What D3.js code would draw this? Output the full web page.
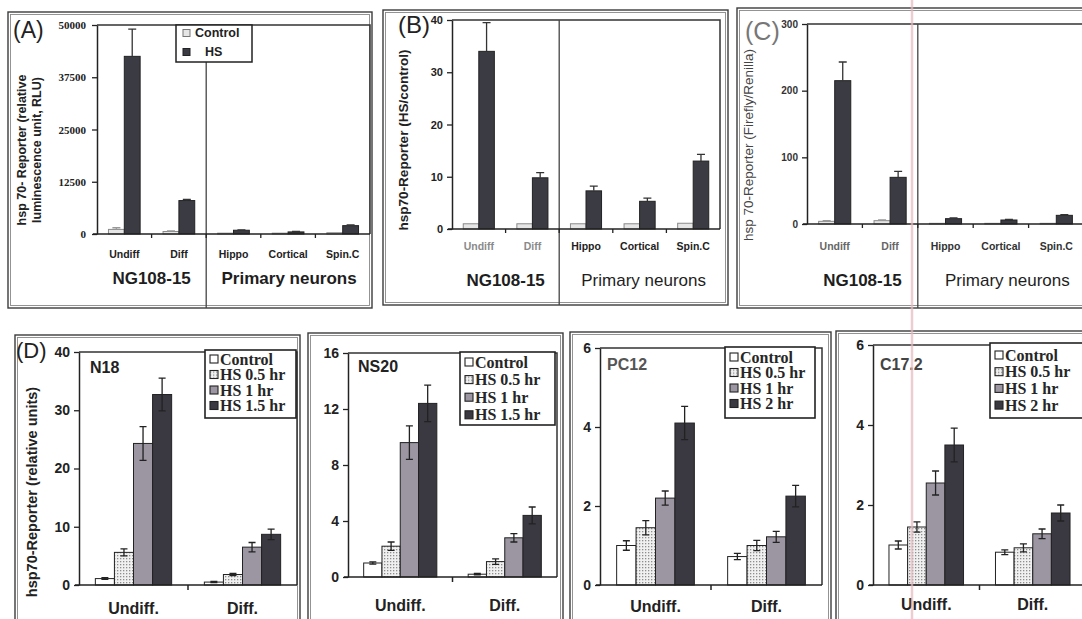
<!DOCTYPE html>
<html>
<head>
<meta charset="utf-8">
<script src="https://cdn.jsdelivr.net/npm/d3@7"></script>
<style>
  body { margin: 0; background: #fff; }
  svg { display: block; font-family: "Liberation Sans", Arial, sans-serif; }
</style>
</head>
<body>
<svg id="chart"></svg>
<script>
const width = 1082;
const height = 619;

// ---- panels A-C ----
const cellTypes = ["Undiff", "Diff", "Hippo", "Cortical", "Spin.C"];
const groupNames = ["NG108-15", "Primary neurons"];
const abcLegend = ["Control", "HS"];

// (A) relative luminescence units
const rluControl = [1100, 600, 200, 200, 300];
const rluControlErr = [400, 150, 0, 0, 0];
const rluHS = [42500, 8000, 900, 500, 2000];
const rluHSErr = [6500, 300, 100, 100, 200];
const rluTicks = [0, 12500, 25000, 37500, 50000];

// (B) HS / control
const foldControl = [1, 1, 1, 1, 1.1];
const foldControlErr = [0, 0, 0, 0, 0];
const foldHS = [34, 9.8, 7.3, 5.3, 13];
const foldHSErr = [5.5, 1.0, 0.9, 0.6, 1.3];
const foldTicks = [0, 10, 20, 30, 40];

// (C) firefly / renilla
const ratioControl = [4, 5, 1, 1, 1];
const ratioControlErr = [1, 1, 0, 0, 0];
const ratioHS = [215, 70, 8, 6, 13];
const ratioHSErr = [28, 9, 1, 1, 1];
const ratioTicks = [0, 100, 200, 300];

// ---- panel D ----
const dStates = ["Undiff.", "Diff."];
const legend15 = ["Control", "HS 0.5 hr", "HS 1 hr", "HS 1.5 hr"];
const legend2 = ["Control", "HS 0.5 hr", "HS 1 hr", "HS 2 hr"];

// one row per series: [Undiff., Diff.]
const n18Values = [[1.1, 0.5], [5.6, 1.8], [24.3, 6.5], [32.7, 8.7]];
const n18Errors = [[0.15, 0.1], [0.6, 0.2], [2.9, 0.8], [2.8, 0.9]];
const n18Ticks = [0, 10, 20, 30, 40];

const ns20Values = [[1.0, 0.2], [2.2, 1.1], [9.6, 2.8], [12.4, 4.4]];
const ns20Errors = [[0.08, 0.05], [0.3, 0.2], [1.2, 0.3], [1.3, 0.6]];
const ns20Ticks = [0, 4, 8, 12, 16];

const pc12Values = [[1.0, 0.72], [1.45, 1.0], [2.2, 1.22], [4.1, 2.25]];
const pc12Errors = [[0.12, 0.08], [0.18, 0.13], [0.18, 0.14], [0.42, 0.27]];
const pc12Ticks = [0, 2, 4, 6];

const c172Values = [[1.0, 0.82], [1.45, 0.93], [2.55, 1.28], [3.5, 1.8]];
const c172Errors = [[0.1, 0.06], [0.13, 0.1], [0.3, 0.12], [0.42, 0.2]];
const c172Ticks = [0, 2, 4, 6];

const dFills = ["#ffffff", "url(#dots)", "#9b96a2", "#3a3840"];

const svg = d3.select("#chart")
  .attr("width", width)
  .attr("height", height);

// halftone pattern for the 0.5 hr bars
const pat = svg.append("defs").append("pattern")
  .attr("id", "dots")
  .attr("width", 3).attr("height", 3)
  .attr("patternUnits", "userSpaceOnUse");
pat.append("rect").attr("width", 3).attr("height", 3).attr("fill", "#f0f0f0");
pat.append("rect").attr("width", 1.3).attr("height", 1.3).attr("fill", "#8d8d8d");

// scanned double-line frame
function frame(x, y, w, h) {
  svg.append("rect").attr("x", x).attr("y", y).attr("width", w).attr("height", h)
    .attr("fill", "none").attr("stroke", "#3c3c3c").attr("stroke-width", 1.4);
  svg.append("rect").attr("x", x + 2.5).attr("y", y + 2.5).attr("width", w - 5).attr("height", h - 5)
    .attr("fill", "none").attr("stroke", "#888").attr("stroke-width", 0.9);
}

function vTitle(g, text, x, y, size, weight, color) {
  g.append("text")
    .attr("transform", `translate(${x},${y}) rotate(-90)`)
    .attr("text-anchor", "middle")
    .attr("dominant-baseline", "central")
    .attr("font-size", size).attr("font-weight", weight).attr("fill", color)
    .text(text);
}

function topPanel(o) {
  frame(...o.box);
  const g = svg.append("g");

  const x = d3.scaleBand().domain(cellTypes).range([o.x0, o.x1]).paddingInner(0.42).paddingOuter(0.21);
  const inner = d3.scaleBand().domain(abcLegend).range([0, x.bandwidth()]);
  const y = d3.scaleLinear().domain([0, o.max]).range([o.yZero, o.yTop]);
  const half = x.step() * x.paddingInner() / 2;
  const divX = x(cellTypes[2]) - half;

  // plot area border
  g.append("path").attr("d", `M${o.x0},${o.yTop}H${o.x1}V${o.yZero}`)
    .attr("fill", "none").attr("stroke", "#333").attr("stroke-width", 1.5);
  // divider between cell line and primary neurons
  g.append("line").attr("x1", divX).attr("x2", divX)
    .attr("y1", o.yTop).attr("y2", o.box[1] + o.box[3])
    .attr("stroke", "#444").attr("stroke-width", 1.3);

  const rows = cellTypes.flatMap((c, i) => [
    { c, k: "Control", v: o.control[i], e: o.controlErr[i] },
    { c, k: "HS", v: o.hs[i], e: o.hsErr[i] }
  ]);

  g.selectAll("rect.bar").data(rows).join("rect")
    .attr("class", "bar")
    .attr("x", d => x(d.c) + inner(d.k))
    .attr("width", inner.bandwidth())
    .attr("y", d => y(d.v))
    .attr("height", d => y(0) - y(d.v))
    .attr("fill", d => d.k === "HS" ? "#3b3b43" : "#e6e6e6")
    .attr("stroke", d => d.k === "HS" ? "#222" : "#8a8a8a")
    .attr("stroke-width", 1);

  g.selectAll("path.err").data(rows.filter(d => d.e > 0)).join("path")
    .attr("class", "err")
    .attr("d", d => {
      const cx = x(d.c) + inner(d.k) + inner.bandwidth() / 2;
      const yt = y(d.v + d.e);
      return `M${cx},${y(d.v)}V${yt}M${cx - 4},${yt}H${cx + 4}`;
    })
    .attr("fill", "none")
    .attr("stroke", d => d.k === "HS" ? "#333" : "#999")
    .attr("stroke-width", 1.3);

  // y axis
  const ya = g.append("g").attr("transform", `translate(${o.x0},0)`)
    .call(d3.axisLeft(y).tickValues(o.ticks).tickSize(5).tickSizeOuter(0)
      .tickPadding(o.tickPad).tickFormat(d3.format("d")));
  ya.select(".domain").attr("stroke", "#222").attr("stroke-width", 1.5);
  ya.selectAll(".tick line").attr("stroke", "#222").attr("stroke-width", 1.3);
  ya.selectAll(".tick text")
    .attr("font-family", o.tickFont).attr("font-size", o.tickSize)
    .attr("font-weight", "bold").attr("fill", o.tickColor);

  // x baseline and boundary ticks
  g.append("line").attr("x1", o.x0 - 4).attr("x2", o.x1)
    .attr("y1", y(0)).attr("y2", y(0))
    .attr("stroke", "#222").attr("stroke-width", 1.6);
  g.selectAll("line.xt").data(cellTypes.slice(1)).join("line")
    .attr("class", "xt")
    .attr("x1", c => x(c) - half).attr("x2", c => x(c) - half)
    .attr("y1", y(0)).attr("y2", y(0) + 4)
    .attr("stroke", "#222").attr("stroke-width", 1.3);

  // category labels
  const xa = g.append("g").attr("transform", `translate(0,${o.yZero})`)
    .call(d3.axisBottom(x).tickSize(0).tickPadding(o.catPad));
  xa.select(".domain").remove();
  xa.selectAll(".tick text")
    .attr("font-family", "Liberation Sans, Arial, sans-serif")
    .attr("font-size", 10.5).attr("font-weight", "bold")
    .attr("fill", (d, i) => o.catColors[i]);

  // group labels
  g.selectAll("text.grp").data(groupNames).join("text")
    .attr("class", "grp")
    .attr("x", (d, i) => i === 0 ? (o.x0 + divX) / 2 : (divX + o.box[0] + o.box[2]) / 2)
    .attr("y", o.groupY)
    .attr("text-anchor", "middle")
    .attr("font-size", 17)
    .attr("font-weight", (d, i) => i === 0 ? "bold" : o.group2Weight)
    .attr("fill", "#1e1e1e")
    .text(d => d);

  // panel letter
  g.append("text").attr("x", o.letter.x).attr("y", o.letter.y)
    .attr("font-size", o.letter.size).attr("fill", o.letter.color)
    .text(o.letter.text);

  o.titles.forEach(t => vTitle(g, t.text, t.x, o.titleY, o.titleSize, o.titleWeight, o.titleColor));

  if (o.legend) {
    const L = o.legend;
    g.append("rect").attr("x", L.x).attr("y", L.y).attr("width", L.w).attr("height", L.h)
      .attr("fill", "#fff").attr("stroke", "#222").attr("stroke-width", 1.5);
    const items = g.selectAll("g.leg").data(abcLegend).join("g")
      .attr("transform", (d, i) => `translate(${L.x + 7},${L.y + 8 + i * 19})`);
    items.append("rect").attr("x", 0).attr("y", -3.5).attr("width", 7).attr("height", 7)
      .attr("fill", (d, i) => i ? "#3b3b43" : "#e6e6e6")
      .attr("stroke", (d, i) => i ? "#222" : "#777");
    items.append("text").attr("x", (d, i) => i ? 22 : 12).attr("y", 0)
      .attr("dominant-baseline", "central")
      .attr("font-size", 12.5).attr("font-weight", "bold").attr("fill", "#222")
      .text(d => d);
  }
}

function dPanel(o) {
  frame(...o.box);
  const g = svg.append("g");

  const x = d3.scaleBand().domain(dStates).range([o.x0, o.x1]).paddingInner(0.3).paddingOuter(0.15);
  const inner = d3.scaleBand().domain(o.legend).range([0, x.bandwidth()]);
  const y = d3.scaleLinear().domain([0, o.max]).range([o.yZero, o.yTop]);

  g.append("path").attr("d", `M${o.x0},${o.yTop}H${o.x1}V${o.yZero}`)
    .attr("fill", "none").attr("stroke", "#333").attr("stroke-width", 1.5);

  const rows = o.legend.flatMap((k, s) => dStates.map((c, i) => ({
    c, k, s, v: o.values[s][i], e: o.errors[s][i]
  })));

  g.selectAll("rect.bar").data(rows).join("rect")
    .attr("class", "bar")
    .attr("x", d => x(d.c) + inner(d.k))
    .attr("width", inner.bandwidth())
    .attr("y", d => y(d.v))
    .attr("height", d => y(0) - y(d.v))
    .attr("fill", d => dFills[d.s])
    .attr("stroke", "#222").attr("stroke-width", 1);

  g.selectAll("path.err").data(rows).join("path")
    .attr("class", "err")
    .attr("d", d => {
      const cx = x(d.c) + inner(d.k) + inner.bandwidth() / 2;
      const yt = y(d.v + d.e), yb = y(Math.max(0, d.v - d.e));
      return `M${cx},${yb}V${yt}M${cx - 3.5},${yt}H${cx + 3.5}M${cx - 3.5},${yb}H${cx + 3.5}`;
    })
    .attr("fill", "none").attr("stroke", "#222").attr("stroke-width", 1.3);

  const ya = g.append("g").attr("transform", `translate(${o.x0},0)`)
    .call(d3.axisLeft(y).tickValues(o.ticks).tickSize(5).tickSizeOuter(0)
      .tickPadding(4).tickFormat(d3.format("d")));
  ya.select(".domain").attr("stroke", "#222").attr("stroke-width", 1.5);
  ya.selectAll(".tick line").attr("stroke", "#222").attr("stroke-width", 1.3);
  ya.selectAll(".tick text")
    .attr("font-size", 14).attr("font-weight", "bold").attr("fill", "#222");

  const midX = (x(dStates[0]) + x.bandwidth() + x(dStates[1])) / 2;
  g.append("line").attr("x1", o.x0 - 4).attr("x2", o.x1)
    .attr("y1", y(0)).attr("y2", y(0))
    .attr("stroke", "#222").attr("stroke-width", 1.6);
  g.append("line").attr("x1", midX).attr("x2", midX)
    .attr("y1", y(0)).attr("y2", y(0) + 5)
    .attr("stroke", "#222").attr("stroke-width", 1.5);

  const xa = g.append("g").attr("transform", `translate(0,${o.yZero})`)
    .call(d3.axisBottom(x).tickSize(0).tickPadding(o.catPad));
  xa.select(".domain").remove();
  xa.selectAll(".tick text")
    .attr("font-size", 16).attr("font-weight", "bold").attr("fill", "#222");

  // cell line name
  g.append("text").attr("x", o.name.x).attr("y", o.name.y)
    .attr("font-size", 16).attr("font-weight", "bold").attr("fill", o.name.color)
    .text(o.name.text);

  // legend
  const L = o.legendBox;
  g.append("rect").attr("x", L.x).attr("y", L.y).attr("width", L.w).attr("height", L.h)
    .attr("fill", "#fff").attr("stroke", "#222").attr("stroke-width", 1.6);
  const items = g.selectAll("g.leg").data(o.legend).join("g")
    .attr("transform", (d, i) => `translate(${L.x + 5},${L.y + L.first + i * L.gap})`);
  items.append("rect").attr("x", 0).attr("y", -4).attr("width", 8).attr("height", 8)
    .attr("fill", (d, i) => dFills[i]).attr("stroke", "#222").attr("stroke-width", 1.1);
  items.append("text").attr("x", 10).attr("y", 0)
    .attr("dominant-baseline", "central")
    .attr("font-family", "Liberation Serif, Times New Roman, serif")
    .attr("font-size", 16).attr("font-weight", "bold").attr("fill", "#262626")
    .text(d => d);

  if (o.letter) {
    g.append("text").attr("x", o.letter.x).attr("y", o.letter.y)
      .attr("font-size", o.letter.size).attr("fill", "#222").text(o.letter.text);
  }
  if (o.title) vTitle(g, o.title.text, o.title.x, o.title.y, 14.5, "bold", "#222");
}

// (A)
topPanel({
  box: [8, 12, 364, 296], x0: 97, x1: 370, yTop: 25, yZero: 234, max: 50000, ticks: rluTicks,
  control: rluControl, controlErr: rluControlErr, hs: rluHS, hsErr: rluHSErr,
  tickFont: "Liberation Serif, Times New Roman, serif", tickSize: 11, tickPad: 6, tickColor: "#222",
  catPad: 17, catColors: ["#222", "#222", "#222", "#222", "#222"],
  groupY: 284, group2Weight: "bold",
  letter: { text: "(A)", x: 13, y: 38, size: 23, color: "#222" },
  titles: [{ text: "hsp 70- Reporter (relative", x: 22 }, { text: "luminescence unit, RLU)", x: 37 }],
  titleY: 150, titleSize: 12.5, titleWeight: "bold", titleColor: "#222",
  legend: { x: 176, y: 25, w: 76, h: 37 }
});

// (B)
topPanel({
  box: [383, 10, 345, 295], x0: 452, x1: 720, yTop: 20, yZero: 229, max: 40, ticks: foldTicks,
  control: foldControl, controlErr: foldControlErr, hs: foldHS, hsErr: foldHSErr,
  tickFont: "Liberation Sans, Arial, sans-serif", tickSize: 11, tickPad: 4, tickColor: "#222",
  catPad: 14, catColors: ["#8a8a8a", "#8a8a8a", "#1e1e1e", "#1e1e1e", "#1e1e1e"],
  groupY: 286, group2Weight: "normal",
  letter: { text: "(B)", x: 398, y: 33, size: 24, color: "#222" },
  titles: [{ text: "hsp70-Reporter (HS/control)", x: 403 }],
  titleY: 140, titleSize: 13.5, titleWeight: "bold", titleColor: "#222"
});

// (C)
topPanel({
  box: [737, 8, 360, 300], x0: 807, x1: 1084, yTop: 24, yZero: 224, max: 300, ticks: ratioTicks,
  control: ratioControl, controlErr: ratioControlErr, hs: ratioHS, hsErr: ratioHSErr,
  tickFont: "Liberation Sans, Arial, sans-serif", tickSize: 10, tickPad: 4, tickColor: "#333",
  catPad: 19, catColors: ["#666", "#666", "#333", "#333", "#333"],
  groupY: 286, group2Weight: "normal",
  letter: { text: "(C)", x: 745, y: 40, size: 25, color: "#777" },
  titles: [{ text: "hsp 70-Reporter (Firefly/Renilla)", x: 748 }],
  titleY: 145, titleSize: 13.5, titleWeight: "normal", titleColor: "#444"
});

// (D) N18
dPanel({
  box: [15, 335, 285, 300], x0: 79, x1: 297, yTop: 352, yZero: 585, max: 40, ticks: n18Ticks,
  legend: legend15, values: n18Values, errors: n18Errors, catPad: 18,
  name: { text: "N18", x: 90, y: 373, color: "#222" },
  legendBox: { x: 205, y: 350, w: 91, h: 68, first: 9, gap: 15.5 },
  letter: { text: "(D)", x: 16, y: 358, size: 22 },
  title: { text: "hsp70-Reporter (relative units)", x: 32, y: 492 }
});

// NS20
dPanel({
  box: [308, 333, 255, 300], x0: 348, x1: 557, yTop: 353, yZero: 577, max: 16, ticks: ns20Ticks,
  legend: legend15, values: ns20Values, errors: ns20Errors, catPad: 23,
  name: { text: "NS20", x: 358, y: 372, color: "#222" },
  legendBox: { x: 460, y: 352, w: 95, h: 73, first: 10, gap: 17.6 }
});

// PC12
dPanel({
  box: [570, 332, 261, 300], x0: 600, x1: 822, yTop: 348, yZero: 585, max: 6, ticks: pc12Ticks,
  legend: legend2, values: pc12Values, errors: pc12Errors, catPad: 16,
  name: { text: "PC12", x: 607, y: 370, color: "#555" },
  legendBox: { x: 725, y: 347, w: 90, h: 71, first: 10, gap: 15.5 }
});

// C17.2
dPanel({
  box: [836, 331, 260, 300], x0: 873, x1: 1086, yTop: 345, yZero: 585, max: 6, ticks: c172Ticks,
  legend: legend2, values: c172Values, errors: c172Errors, catPad: 14,
  name: { text: "C17.2", x: 880, y: 370, color: "#444" },
  legendBox: { x: 990, y: 343, w: 100, h: 75, first: 12, gap: 16.7 }
});

// faint pink scan streak
svg.append("line").attr("x1", 912).attr("x2", 912).attr("y1", 0).attr("y2", height)
  .attr("stroke", "#e5b9bf").attr("stroke-width", 2.5).attr("opacity", 0.7);
</script>
</body>
</html>
